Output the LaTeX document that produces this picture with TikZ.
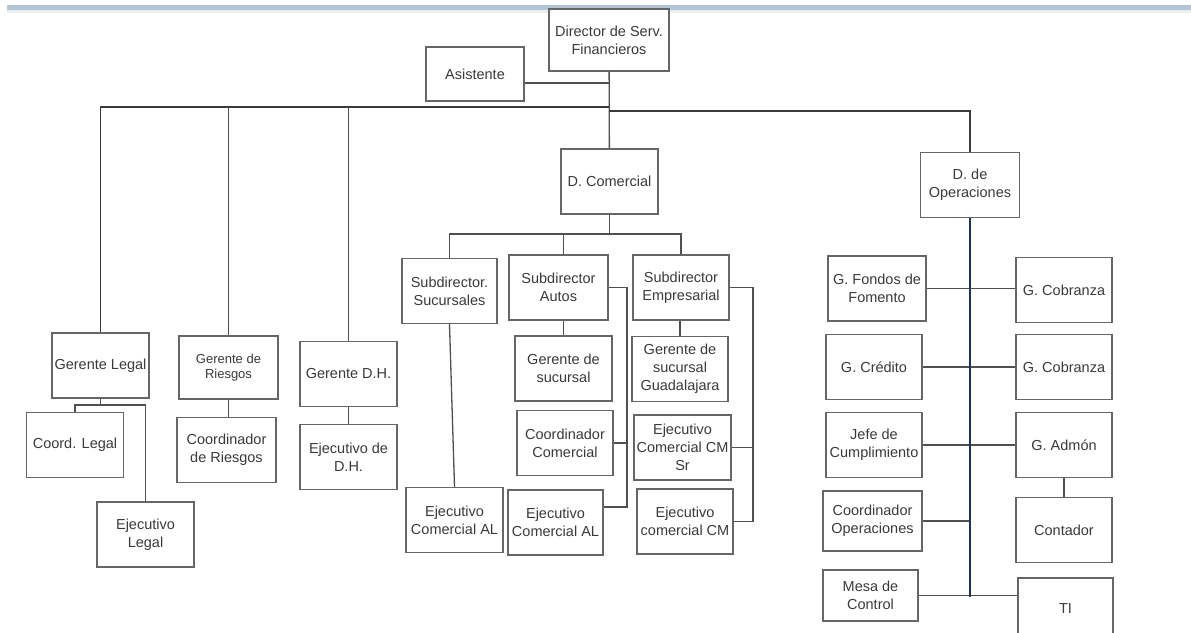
\documentclass[tikz,border=0pt]{standalone}
\usepackage{fontspec}
\setmainfont{Liberation Sans}
\definecolor{boxgray}{HTML}{666666}
\definecolor{linegray}{HTML}{505050}
\definecolor{busgray}{HTML}{3A3A3A}
\definecolor{opsblue}{HTML}{1F3357}
\definecolor{txtgray}{HTML}{3A3A3A}
\definecolor{bandblue}{HTML}{B4C6D6}
\begin{document}
\begin{tikzpicture}[
  x=1pt, y=-1pt,
  every node/.style={font=\fontsize{14.5}{18}\selectfont, text=txtgray},
  box/.style={shape=rectangle, draw=boxgray, line width=1.4pt, fill=white, align=center,
    inner sep=0pt, minimum width=97pt, minimum height=65pt},
  link/.style={draw=linegray, line width=1.3pt},
  bus/.style={draw=busgray, line width=1.6pt},
  ops/.style={draw=opsblue, line width=1.8pt}
]
\useasboundingbox (0,0) rectangle (1191,632);
\fill[bandblue] (7,5) rectangle (1191,10);
\fill[bandblue!30] (7,10) rectangle (1191,13);

\node [box, minimum width=120pt, minimum height=62pt] (dir) at (609,40) {Director de Serv.\\Financieros};
\node [box, minimum width=98pt, minimum height=54pt] (asis) at (475,74) {Asistente};
\node [box] (dcom) at (609.5,181.5) {D. Comercial};
\node [box, minimum width=99pt] (dop) at (970,185) {D. de\\Operaciones};

\node [box] (glegal) at (100.5,365.5) {Gerente Legal};
\node [box, minimum width=99pt, minimum height=63pt, font=\fontsize{13}{15}\selectfont] (griesgos) at (228.5,367.5) {Gerente de\\Riesgos};
\node [box] (gdh) at (348.5,374) {Gerente D.H.};
\node [box] (clegal) at (75,445) {Coord. Legal};
\node [box] (elegal) at (145.5,534.5) {Ejecutivo\\Legal};
\node [box, minimum width=99pt] (criesgos) at (226.5,450) {Coordinador\\de Riesgos};
\node [box] (edh) at (348.5,457) {Ejecutivo de\\D.H.};

\node [box, minimum width=95pt] (ssuc) at (449.5,291) {Subdirector.\\Sucursales};
\node [box, minimum width=99pt] (sautos) at (558.5,287.5) {Subdirector\\Autos};
\node [box, minimum width=96pt] (semp) at (681,287.5) {Subdirector\\Empresarial};
\node [box] (gsuc) at (563.5,368.5) {Gerente de\\sucursal};
\node [box, minimum width=96pt] (gsucgdl) at (680,369) {Gerente de\\sucursal\\Guadalajara};
\node [box, minimum width=96pt] (ccom) at (565,443) {Coordinador\\Comercial};
\node [box] (ecmsr) at (682.5,447.5) {Ejecutivo\\Comercial CM\\Sr};
\node [box] (ealsuc) at (454.5,520) {Ejecutivo\\Comercial AL};
\node [box, minimum width=95pt] (ealaut) at (555.5,522.5) {Ejecutivo\\Comercial AL};
\node [box, minimum width=96pt] (ecm) at (685,521.5) {Ejecutivo\\comercial CM};

\node [box, minimum width=98pt] (gfondos) at (877,288.5) {G. Fondos de\\Fomento};
\node [box, minimum width=96pt] (gcob1) at (1064,290) {G. Cobranza};
\node [box, minimum width=96pt] (gcred) at (874,367) {G. Crédito};
\node [box, minimum width=96pt] (gcob2) at (1064,367) {G. Cobranza};
\node [box, minimum width=96pt] (jefe) at (874,445) {Jefe de\\Cumplimiento};
\node [box, minimum width=96pt] (gadmon) at (1064,445) {G. Admón};
\node [box, minimum width=96pt] (conta) at (1064,530) {Contador};
\node [box, minimum width=99pt, minimum height=60pt] (coordop) at (872.5,521) {Coordinador\\Operaciones};
\node [box, minimum width=95pt, minimum height=51pt] (mesa) at (870.5,595.5) {Mesa de\\Control};
\node [box, minimum width=95pt, minimum height=62pt] (ti) at (1065.5,609) {TI};

\coordinate (busl) at (609,107);
\coordinate (busr) at (609,111);
\coordinate (cbus) at (609.5,234);
\coordinate (lj) at (100.5,405);
\coordinate (av) at (627,290);
\coordinate (ev) at (753,291);
\coordinate (ov) at (970,597);
\coordinate (aend) at ([yshift=15.5pt]ealaut.east);

\draw[link] ([yshift=-9pt]asis.east) -- ([yshift=-9pt]asis.east -| dir.south);
\draw[link] (dir) -- (dcom);
\draw[bus] (glegal.north) |- (busl);
\draw[bus] (busr) -| (dop.north);
\draw[link] (griesgos.north) -- (griesgos.north |- busl);
\draw[link] (gdh.north) -- (gdh.north |- busl);

\draw[link] (glegal.south) -- (lj);
\draw[link] (clegal.north) |- (lj) -| (elegal.north);
\draw[link] (griesgos.south) -- (griesgos.south |- criesgos.north);
\draw[link] (gdh) -- (edh);

\draw[link] (dcom.south) -- (cbus);
\draw[link] (ssuc.north) |- (cbus) -| (semp.north);
\draw[link] (gsuc.north |- sautos.north) -- (gsuc.north |- cbus);
\draw[link] (ssuc.south) -- (ealsuc.north);
\draw[link] (gsuc.north |- sautos.south) -- (gsuc.north);
\draw[link] (gsucgdl.north) -- (gsucgdl.north |- semp.south);
\draw[link] (sautos.east) -| (av |- aend) -- (aend);
\draw[link] (ccom.east) -- (ccom.east -| av);
\draw[link] (semp.east) -| (ev |- ecm.east) -- (ecm.east);
\draw[link] (ecmsr.east) -- (ecmsr.east -| ev);

\draw[link] (gfondos.east) -- (gfondos.east -| gcob1.west);
\draw[link] (gcred) -- (gcob2);
\draw[link] (jefe) -- (gadmon);
\draw[link] (gadmon) -- (conta);
\draw[link] (coordop.east) -- (coordop.east -| ov);
\draw[link] (mesa.east) -- (mesa.east -| ti.west);
\draw[ops] (dop.south) -- (dop.south |- ov);
\end{tikzpicture}
\end{document}
